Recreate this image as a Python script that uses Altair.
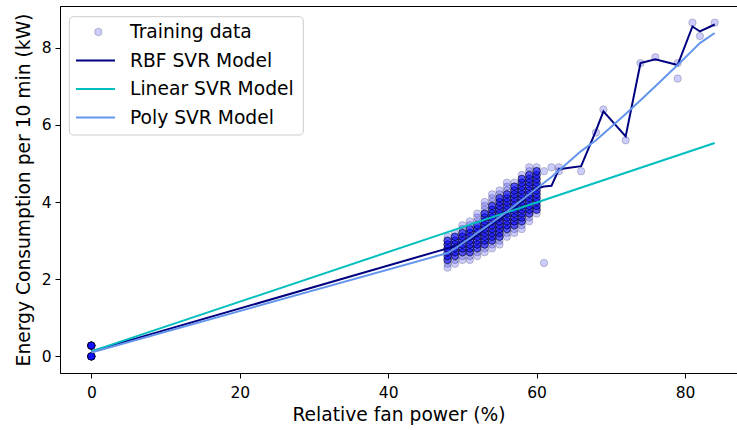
import altair as alt
import pandas as pd

# ---------------- data ----------------
# idle points at 0 % fan power (many identical rows)
zero_y = [0.0, 0.28]
zero_copies = 12

# dense cluster: one column per integer fan power
col_x = [48, 49, 50, 51, 52, 53, 54, 55, 56, 57, 58, 59, 60]
col_sparse_y = [
    [2.3, 2.4, 3.1],
    [2.4, 2.5, 3.2],
    [2.5, 2.6, 3.3, 3.4],
    [2.5, 2.6, 3.4, 3.5],
    [2.6, 2.7, 3.5, 3.6, 3.7],
    [2.7, 2.8, 3.8, 3.9, 4.0],
    [2.8, 2.9, 4.0, 4.1, 4.2],
    [2.9, 3.0, 4.2, 4.3],
    [3.1, 3.2, 4.3, 4.4, 4.5],
    [3.2, 3.3, 4.5],
    [3.3, 3.4, 4.7],
    [3.5, 3.6, 4.8, 4.9],
    [3.7, 4.9],
]
col_dense_y = [
    [2.5, 2.6, 2.7, 2.8, 2.9, 3.0],
    [2.6, 2.7, 2.8, 2.9, 3.0, 3.1],
    [2.7, 2.8, 2.9, 3.0, 3.1, 3.2],
    [2.7, 2.8, 2.9, 3.0, 3.1, 3.2, 3.3],
    [2.8, 2.9, 3.0, 3.1, 3.2, 3.3, 3.4],
    [2.9, 3.0, 3.1, 3.2, 3.3, 3.4, 3.5, 3.6, 3.7],
    [3.0, 3.1, 3.2, 3.3, 3.4, 3.5, 3.6, 3.7, 3.8, 3.9],
    [3.1, 3.2, 3.3, 3.4, 3.5, 3.6, 3.7, 3.8, 3.9, 4.0, 4.1],
    [3.3, 3.4, 3.5, 3.6, 3.7, 3.8, 3.9, 4.0, 4.1, 4.2],
    [3.4, 3.5, 3.6, 3.7, 3.8, 3.9, 4.0, 4.1, 4.2, 4.3, 4.4],
    [3.5, 3.6, 3.7, 3.8, 3.9, 4.0, 4.1, 4.2, 4.3, 4.4, 4.5, 4.6],
    [3.7, 3.8, 3.9, 4.0, 4.1, 4.2, 4.3, 4.4, 4.5, 4.6, 4.7],
    [3.8, 3.9, 4.0, 4.1, 4.2, 4.3, 4.4, 4.5, 4.6, 4.7, 4.8],
]
dense_copies = 4

# isolated high-power points
extra_x = [61, 61, 62, 63, 63, 66, 68, 69, 72, 74, 76, 79, 79, 81, 82, 84]
extra_y = [2.42, 4.8, 4.9, 4.8, 4.9, 4.8, 5.8, 6.4, 5.6, 7.6, 7.75, 7.6, 7.2, 8.65, 8.3, 8.65]

# model predictions at the sorted training inputs
model_x = [0, 48, 49, 50, 51, 52, 53, 54, 55, 56, 57, 58, 59, 60, 61, 62, 63,
           66, 68, 69, 72, 74, 76, 79, 81, 82, 84]
rbf_y = [0.13, 2.8, 2.85, 2.95, 3.02, 3.15, 3.3, 3.45, 3.55, 3.7, 3.85, 4.0, 4.2,
         4.35, 4.4, 4.42, 4.85, 4.93, 5.85, 6.35, 5.7, 7.6, 7.7, 7.55, 8.55, 8.42, 8.6]
poly_y = [0.1, 2.68, 2.8, 2.93, 3.06, 3.2, 3.33, 3.47, 3.61, 3.75, 3.9, 4.05, 4.2,
          4.35, 4.5, 4.65, 4.82, 5.32, 5.6, 5.77, 6.28, 6.64, 7.0, 7.55, 7.93, 8.12, 8.38]
linear_x = [0, 48, 60, 84]
linear_y = [0.13, 3.22, 3.99, 5.53]

series_names = ["Training data", "RBF SVR Model", "Linear SVR Model", "Poly SVR Model"]
series_colors = ["blue", "#000080", "#00bfbf", "#6495ed"]

x_ticks = [0, 20, 40, 60, 80]
y_ticks = [0, 2, 4, 6, 8]

# ---------------- tables ----------------
rows = []
for yv in zero_y:
    rows += [{"x": 0, "y": yv}] * zero_copies
for cx, sp, dn in zip(col_x, col_sparse_y, col_dense_y):
    rows += [{"x": cx, "y": yv} for yv in sp]
    for yv in dn:
        rows += [{"x": cx, "y": yv}] * dense_copies
rows += [{"x": a, "y": b} for a, b in zip(extra_x, extra_y)]
train_df = pd.DataFrame(rows)

rbf_df = pd.DataFrame({"x": model_x, "y": rbf_y})
poly_df = pd.DataFrame({"x": model_x, "y": poly_y})
lin_df = pd.DataFrame({"x": linear_x, "y": linear_y})

legend_df = pd.DataFrame({"series": series_names, "row": list(range(len(series_names)))})

# ---------------- encodings ----------------
FONT = "DejaVu Sans"
x_scale = alt.Scale(domain=[-4.22, 87.0], nice=False, zero=False)
y_scale = alt.Scale(domain=[-0.43, 9.08], nice=False, zero=False)
x_enc = alt.X("x:Q", scale=x_scale,
              axis=alt.Axis(values=x_ticks, title="Relative fan power (%)", format="d"))
y_enc = alt.Y("y:Q", scale=y_scale,
              axis=alt.Axis(values=y_ticks, title="Energy Consumption per 10 min (kW)", format="d"))

pt_style = dict(fill="blue", fillOpacity=0.2, stroke="black", strokeOpacity=0.2, strokeWidth=1, size=55)

scatter = alt.Chart(train_df).mark_circle(**pt_style).encode(x=x_enc, y=y_enc)

def model_line(df, color):
    return alt.Chart(df).mark_line(color=color, strokeWidth=2).encode(
        x=alt.X("x:Q", scale=x_scale), y=alt.Y("y:Q", scale=y_scale))

rbf = model_line(rbf_df, series_colors[1])
lin = model_line(lin_df, series_colors[2])
poly = model_line(poly_df, series_colors[3])

main = alt.layer(scatter, rbf, lin, poly)

# ---------------- legend (upper left, matplotlib style) ----------------
leg_y = alt.Y("row:Q", scale=alt.Scale(domain=[0, 3], range=[26, 111.5], nice=False, zero=False), axis=None)

leg_box = alt.Chart(alt.Data(values=[{"k": 1}])).mark_rect(
    cornerRadius=4, fill="white", fillOpacity=0.8, stroke="#cccccc", strokeWidth=1
).encode(x=alt.value(9.3), x2=alt.value(243.3), y=alt.value(10.7), y2=alt.value(129))

leg_text = alt.Chart(legend_df).mark_text(
    align="left", baseline="middle", font=FONT, fontSize=18.7, color="black"
).encode(x=alt.value(70), y=leg_y, text="series:N")

leg_dot = alt.Chart(legend_df).transform_filter("datum.row == 0").mark_circle(**pt_style).encode(
    x=alt.value(38.3), y=leg_y)

leg_lines = alt.Chart(legend_df).transform_filter("datum.row > 0").mark_rule(strokeWidth=2).encode(
    x=alt.value(16), x2=alt.value(55), y=leg_y,
    color=alt.Color("series:N", scale=alt.Scale(domain=series_names, range=series_colors), legend=None))

legend = alt.layer(leg_box, leg_text, leg_dot, leg_lines)

chart = alt.layer(main, legend).resolve_scale(
    y="independent"
).properties(
    width=677, height=367,
    padding={"left": 60, "top": 6, "right": 0, "bottom": 57},
    autosize="none",
    background="white",
).configure_view(
    stroke="black", strokeWidth=1
).configure_axis(
    grid=False, domainColor="black", tickColor="black", labelColor="black", titleColor="black",
    labelFont=FONT, titleFont=FONT, labelFontSize=15.5, titleFontSize=18.7, titleFontWeight="normal",
    tickSize=5, tickWidth=1, domainWidth=1
).configure_axisX(
    labelPadding=7, titlePadding=5
).configure_axisY(
    labelPadding=4, titlePadding=8
)

chart.save("out.html", embed_options={"renderer": "svg", "actions": False})
